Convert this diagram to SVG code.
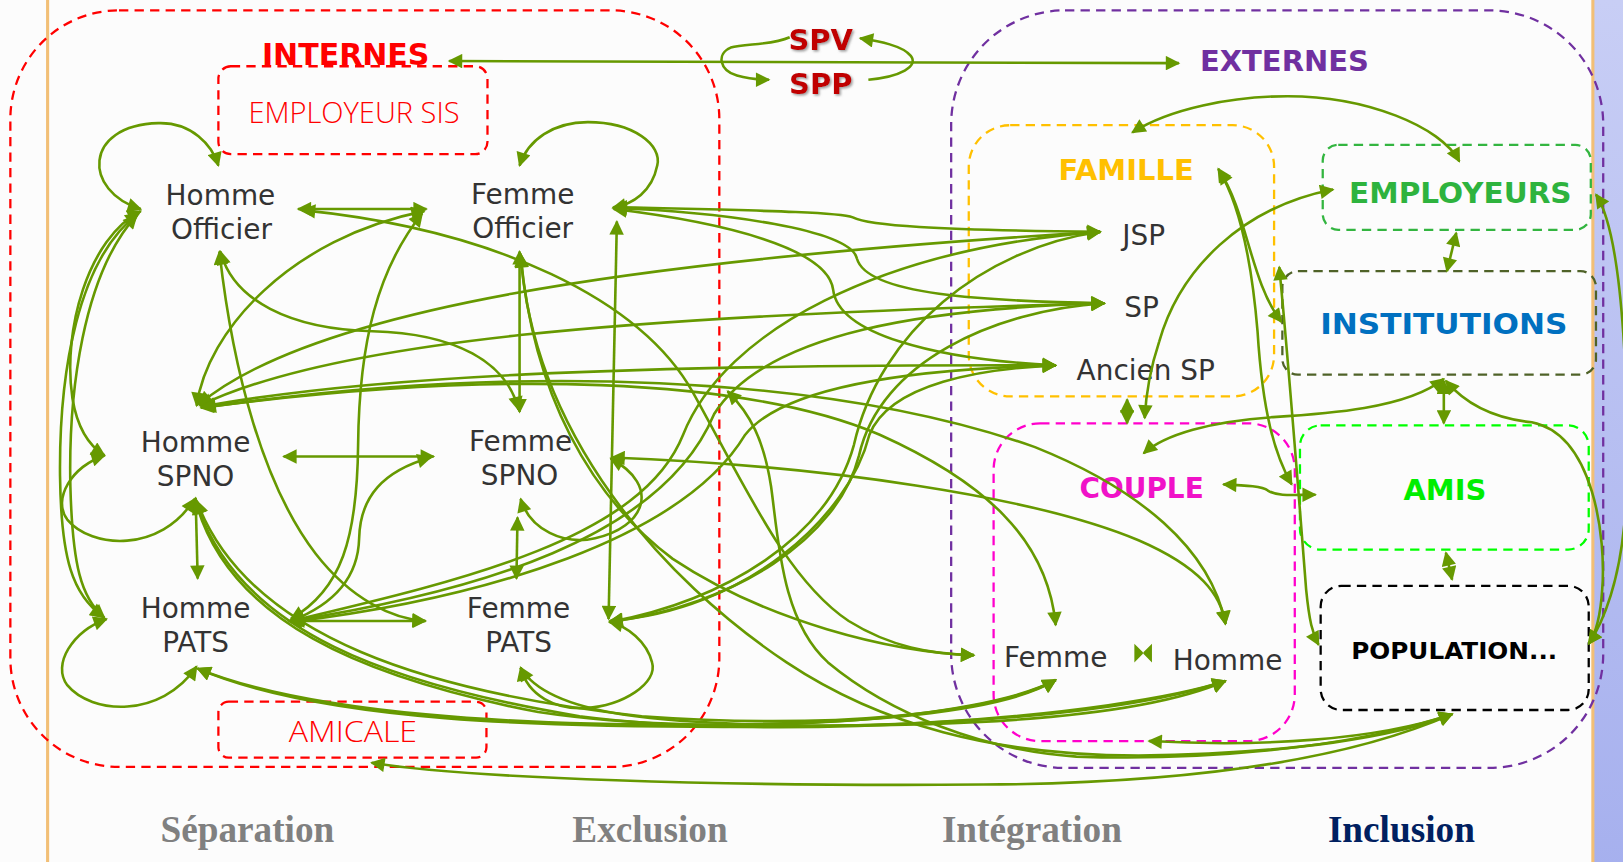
<svg xmlns="http://www.w3.org/2000/svg" width="1623" height="862" viewBox="0 0 1623 862">
<defs>
<style>
.c{fill:none;stroke:#669900;stroke-width:2.5;marker-end:url(#a)}
.b{marker-start:url(#a)}
.ah{fill:#669900;stroke:none}
.n{font-family:'DejaVu Sans',Verdana,sans-serif;font-size:27px;fill:#333333;text-anchor:middle}
.t{font-family:'DejaVu Sans',Verdana,sans-serif;font-weight:bold;text-anchor:middle}
.thin{font-family:'Open Sans','Liberation Sans',sans-serif;font-weight:300;font-size:28px;fill:#ff0000;text-anchor:middle}
.lab{font-family:'Liberation Serif','Times New Roman',serif;font-weight:bold;font-size:36px;fill:#808080;text-anchor:middle}
.lab.inc{fill:#002060}
.rd{fill:none;stroke:#ff0000;stroke-width:2.2;stroke-dasharray:9 6}
.pu{fill:none;stroke:#7030a0;stroke-width:2.2;stroke-dasharray:9 6}
</style>
<marker id="a" viewBox="0 0 10 10" refX="9" refY="5" markerWidth="15" markerHeight="14" markerUnits="userSpaceOnUse" orient="auto-start-reverse">
<path d="M0,0 L10,5 L0,10 z" fill="#669900"/>
</marker>
<linearGradient id="blue" x1="0" y1="0" x2="0" y2="1">
<stop offset="0" stop-color="#c8cef5"/>
<stop offset="1" stop-color="#a6b0ee"/>
</linearGradient>
<filter id="sh" x="-10%" y="-10%" width="130%" height="140%">
<feDropShadow dx="1.5" dy="1.5" stdDeviation="0.8" flood-color="#888888" flood-opacity="0.8"/>
</filter>
</defs>
<rect x="0" y="0" width="1623" height="862" fill="#fcfcfc"/>
<g transform="scale(1.035)">
<rect x="1540" y="0" width="40" height="840" fill="url(#blue)"/>
<line x1="1539" y1="0" x2="1539" y2="840" stroke="#f2bf76" stroke-width="3"/>
<line x1="46" y1="0" x2="46" y2="840" stroke="#f2bf76" stroke-width="3"/>

<g id="internes">
<rect class="rd" x="10" y="10" width="685" height="731" rx="105"/>
<text class="t" x="334" y="63" font-size="29" fill="#ff0000">INTERNES</text>
</g>
<g id="externes">
<rect class="pu" x="919" y="10" width="630" height="732" rx="110"/>
<text class="t" x="1241" y="69" font-size="28" fill="#7030a0">EXTERNES</text>
</g>
<g id="spv"><text class="t" x="793" y="48" font-size="28" fill="#c00000" filter="url(#sh)">SPV</text></g>
<g id="spp"><text class="t" x="793" y="91" font-size="28" fill="#c00000" filter="url(#sh)">SPP</text></g>
<g id="employeur-sis">
<rect class="rd" x="211" y="64" width="260" height="85" rx="12"/>
<text class="thin" x="342" y="119" textLength="204" lengthAdjust="spacingAndGlyphs">EMPLOYEUR SIS</text>
</g>
<g id="amicale">
<rect class="rd" x="211" y="678" width="259" height="54" rx="10"/>
<text class="thin" x="341" y="717" textLength="124" lengthAdjust="spacingAndGlyphs">AMICALE</text>
</g>
<g id="homme-officier"><text class="n" x="213" y="198">Homme</text><text class="n" x="214" y="231">Officier</text></g>
<g id="femme-officier"><text class="n" x="505" y="197">Femme</text><text class="n" x="505" y="230">Officier</text></g>
<g id="homme-spno"><text class="n" x="189" y="437">Homme</text><text class="n" x="189" y="470">SPNO</text></g>
<g id="femme-spno"><text class="n" x="503" y="436">Femme</text><text class="n" x="502" y="469">SPNO</text></g>
<g id="homme-pats"><text class="n" x="189" y="597">Homme</text><text class="n" x="189" y="630">PATS</text></g>
<g id="femme-pats"><text class="n" x="501" y="597">Femme</text><text class="n" x="501" y="630">PATS</text></g>

<g id="famille">
<rect fill="none" stroke="#ffc000" stroke-width="2.2" stroke-dasharray="9 6" x="936" y="121" width="295" height="262" rx="40"/>
<text class="t" x="1088" y="174" font-size="28" fill="#ffc000">FAMILLE</text>
</g>
<g id="jsp"><text class="n" x="1105" y="237">JSP</text></g>
<g id="sp"><text class="n" x="1103" y="306">SP</text></g>
<g id="ancien-sp"><text class="n" x="1107" y="367">Ancien SP</text></g>
<g id="employeurs">
<rect fill="none" stroke="#33b540" stroke-width="2.2" stroke-dasharray="9 6" x="1278" y="140" width="259" height="82" rx="15"/>
<text class="t" x="1411" y="196" font-size="28" fill="#2eb33e" textLength="215" lengthAdjust="spacingAndGlyphs">EMPLOYEURS</text>
</g>
<g id="institutions">
<rect fill="none" stroke="#4f6228" stroke-width="2.2" stroke-dasharray="9 6" x="1239" y="262" width="303" height="100" rx="15"/>
<text class="t" x="1395" y="323" font-size="28" fill="#0070c0" textLength="239" lengthAdjust="spacingAndGlyphs">INSTITUTIONS</text>
</g>
<g id="couple">
<rect fill="none" stroke="#ff00cc" stroke-width="2.2" stroke-dasharray="9 6" x="960" y="409" width="291" height="307" rx="45"/>
<text class="t" x="1103" y="481" font-size="27" fill="#f012c8">COUPLE</text>
</g>
<g id="couple-femme"><text class="n" x="1020" y="644">Femme</text></g>
<g id="couple-homme"><text class="n" x="1186" y="647">Homme</text></g>
<g id="amis">
<rect fill="none" stroke="#00ff00" stroke-width="2.2" stroke-dasharray="9 6" x="1256" y="411" width="279" height="120" rx="20"/>
<text class="t" x="1396" y="483" font-size="28" fill="#00ee00">AMIS</text>
</g>
<g id="population">
<rect fill="none" stroke="#000000" stroke-width="2.2" stroke-dasharray="9 6" x="1276" y="566" width="259" height="120" rx="20"/>
<text class="t" x="1405" y="637" font-size="23" fill="#000000" textLength="199" lengthAdjust="spacingAndGlyphs">POPULATION...</text>
</g>

<g id="connectors">
<path class="c b" d="M434,59 L1139,61"/>
<path class="c" d="M763,36 C745,44 720,42 706,46 C692,52 695,68 712,73 C722,76 732,77 743,77"/>
<path class="c" d="M839,77 C870,74 888,64 880,54 C872,44 850,40 831,37"/>
<path class="c b" d="M136,202 C80,185 80,121 153,119 C185,118 205,140 211,160"/>
<path class="c b" d="M502,160 C510,135 535,118 568,118 C612,118 640,140 635,160 C630,185 612,197 592,201"/>
<path class="c b" d="M288,202 L412,202"/>
<path class="c b" d="M274,441 L419,441"/>
<path class="c b" d="M279,600 L411,600"/>
<path class="c b" d="M189,481 L191,559"/>
<path class="c b" d="M500,500 L499,559"/>
<path class="c b" d="M502,243 L502,398"/>
<path class="c b" d="M101,440 C70,450 50,482 65,502 C88,530 155,535 188,482"/>
<path class="c b" d="M103,598 C70,610 50,642 65,662 C88,690 155,695 190,644"/>
<path class="c b" d="M503,482 C512,512 545,527 575,520 C622,510 640,470 590,443"/>
<path class="c b" d="M503,645 C510,672 537,686 566,684 C602,682 636,660 630,640 C625,620 606,605 589,601"/>
<path class="c b" d="M596,214 L588,598"/>
<path class="c b" d="M136,204 C85,230 60,320 70,385 C75,415 88,432 101,440"/>
<path class="c b" d="M134,206 C75,250 57,360 58,460 C59,540 70,575 100,596"/>
<path class="c b" d="M132,208 C80,265 66,380 68,470 C70,545 78,578 101,597"/>
<path class="c b" d="M190,392 C200,320 280,230 410,204"/>
<path class="c b" d="M192,391 C300,300 600,252 1063,224"/>
<path class="c b" d="M193,392 C320,330 600,305 1067,293"/>
<path class="c b" d="M195,393 C350,364 600,352 1020,353"/>
<path class="c b" d="M196,394 C500,350 800,362 1000,432 C1100,472 1170,530 1184,603"/>
<path class="c b" d="M194,394 C480,356 720,365 850,420 C950,465 1012,520 1020,604"/>
<path class="c b" d="M593,200 C700,203 808,204 824,210 C840,218 900,222 1063,224"/>
<path class="c b" d="M593,201 C700,205 822,222 828,250 C838,285 950,291 1067,293"/>
<path class="c b" d="M593,202 C700,215 800,240 805,280 C810,322 900,347 1020,353"/>
<path class="c b" d="M213,243 C225,290 280,318 360,320 C440,322 490,350 501,396"/>
<path class="c b" d="M212,243 C225,360 255,470 305,535 C340,580 380,598 411,600"/>
<path class="c b" d="M408,206 C365,260 347,330 346,430 C345,520 330,570 281,598"/>
<path class="c b" d="M416,442 C370,455 348,480 347,520 C346,560 320,585 281,600"/>
<path class="c b" d="M292,203 C480,222 620,290 670,380 C720,470 760,560 820,600 C860,625 900,632 941,633"/>
<path class="c b" d="M503,245 C515,420 640,560 760,640 C850,700 960,730 1100,730 C1250,728 1350,712 1403,690"/>
<path class="c b" d="M1403,690 C1300,735 1150,757 950,758 C700,760 450,752 359,737"/>
<path class="c b" d="M1403,690 C1330,715 1220,722 1110,716"/>
<path class="c b" d="M1403,690 C1300,725 1150,735 1040,731 C950,725 860,690 800,640 C755,600 752,520 745,470 C738,425 725,400 703,378"/>
<path class="c b" d="M503,246 C515,380 570,480 650,540 C740,600 860,630 941,633"/>
<path class="c b" d="M591,442 C800,450 1000,480 1100,522 C1160,548 1180,575 1184,603"/>
<path class="c b" d="M281,600 C450,560 620,520 660,420 C700,320 850,240 1063,224"/>
<path class="c b" d="M281,600 C460,572 640,520 690,400 C740,320 900,298 1067,293"/>
<path class="c b" d="M281,601 C470,578 660,520 720,420 C760,370 900,356 1020,353"/>
<path class="c b" d="M589,601 C700,580 800,520 825,430 C850,320 950,240 1063,224"/>
<path class="c b" d="M589,601 C710,585 810,520 830,440 C850,350 960,300 1067,293"/>
<path class="c b" d="M589,600 C720,590 820,500 840,420 C860,370 950,356 1020,353"/>
<path class="c b" d="M189,484 C220,600 350,655 520,688 C700,715 950,695 1020,657"/>
<path class="c b" d="M189,484 C230,612 380,662 560,692 C760,718 1080,692 1184,658"/>
<path class="c b" d="M190,484 C240,618 420,670 620,692 C800,705 960,690 1020,657"/>
<path class="c b" d="M191,646 C300,690 500,702 700,700 C880,698 980,682 1020,657"/>
<path class="c b" d="M191,646 C310,697 520,704 760,702 C950,700 1100,686 1184,658"/>
<path class="c b" d="M503,645 C530,692 640,700 800,701 C1000,701 1120,686 1184,658"/>
<path class="c b" d="M1094,128 C1130,105 1190,93 1244,93 C1320,93 1392,122 1410,156"/>
<path class="c b" d="M1288,183 C1200,200 1140,260 1120,330 C1110,360 1107,385 1106,404"/>
<path class="c b" d="M1089,386 L1089,409"/>
<path class="c b" d="M1177,163 C1200,200 1210,260 1215,320 C1220,400 1232,440 1248,468"/>
<path class="c b" d="M1178,165 C1205,205 1208,272 1238,311"/>
<path class="c b" d="M1236,258 C1245,350 1255,480 1262,570 C1265,600 1268,612 1274,623"/>
<path class="c b" d="M1182,468 C1205,469 1220,470 1225,474 C1235,480 1250,478 1271,478"/>
<path class="c b" d="M1395,366 C1360,395 1280,400 1230,403 C1170,407 1125,420 1105,438"/>
<path class="c b" d="M1395,368 L1395,409"/>
<path class="c b" d="M1397,368 C1420,395 1450,405 1480,408 C1540,420 1552,520 1548,570 C1546,600 1540,615 1535,622"/>
<path class="c b" d="M1542,188 C1570,230 1575,400 1570,500 C1565,560 1550,600 1535,622"/>
<path class="c b" d="M1397,534 L1403,560"/>
<path class="c b" d="M1407,225 L1398,262"/>
<path class="ah" d="M1096,622 L1105,631 L1096,640 Z M1113,622 L1104,631 L1113,640 Z"/>
</g>

<g id="phases">
<text class="lab" x="239" y="814">Séparation</text>
<text class="lab" x="628" y="814">Exclusion</text>
<text class="lab" x="997" y="814">Intégration</text>
<text class="lab inc" x="1354" y="814">Inclusion</text>
</g>
</g>
</svg>
